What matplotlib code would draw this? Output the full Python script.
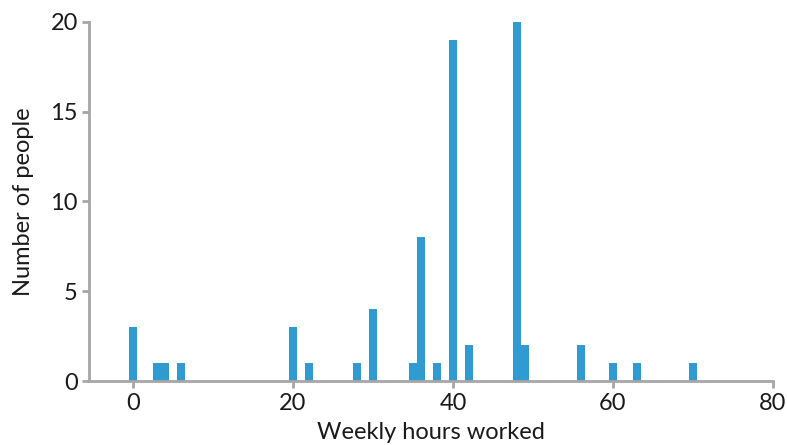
import matplotlib
matplotlib.use("Agg")
import matplotlib.pyplot as plt

hours = [0, 3, 4, 6, 20, 22, 28, 30, 35, 36, 38, 40, 42, 48, 49, 56, 60, 63, 70]
counts = [3, 1, 1, 1, 3, 1, 1, 4, 1, 8, 1, 19, 2, 20, 2, 2, 1, 1, 1]
xticks = [0, 20, 40, 60, 80]
yticks = [0, 5, 10, 15, 20]

plt.rcParams['font.family'] = ['Lato', 'DejaVu Sans']
fig = plt.figure(figsize=(7.87, 4.45), dpi=100)
ax = fig.add_axes([0.1131, 0.1438, 0.8691, 0.8068])
ax.bar(hours, counts, width=1.12, color='#2f9bd0', linewidth=0)
ax.set_xlim(-5.5, 80)
ax.set_ylim(0, 20)
ax.set_xticks(xticks)
ax.set_yticks(yticks)
gray = '#a6a6a6'
for s in ['top', 'right']:
    ax.spines[s].set_visible(False)
for s in ['left', 'bottom']:
    ax.spines[s].set_color(gray)
    ax.spines[s].set_linewidth(2)
ax.tick_params(axis='both', colors=gray, width=2, length=5, labelsize=17, labelcolor='#1a1a1a')
ax.tick_params(axis='y', pad=3)
ax.set_xlabel('Weekly hours worked', fontsize=17, color='#1a1a1a', labelpad=6)
ax.set_ylabel('Number of people', fontsize=17, color='#1a1a1a', labelpad=12)
fig.savefig('out.png', dpi=100)
